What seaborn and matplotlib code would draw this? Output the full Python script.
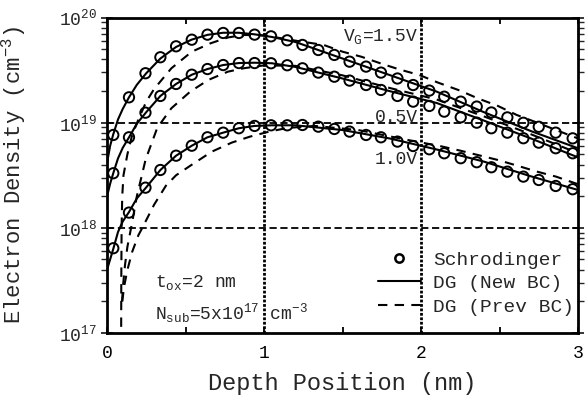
import numpy as np
import pandas as pd
import matplotlib
matplotlib.use("Agg")
import matplotlib.pyplot as plt
import seaborn as sns
from matplotlib.lines import Line2D

# ---------------- data (log10 of electron density, cm^-3) ----------------
x_sch = [0.04, 0.14, 0.245, 0.34, 0.44, 0.54, 0.64, 0.74, 0.84, 0.94, 1.045, 1.148,
         1.245, 1.346, 1.448, 1.545, 1.65, 1.745, 1.85, 1.95, 2.053, 2.148, 2.253,
         2.355, 2.448, 2.55, 2.652, 2.75, 2.858, 2.966]
sch_15 = [18.883, 19.241, 19.470, 19.622, 19.726, 19.789, 19.837, 19.853, 19.853, 19.837,
          19.821, 19.783, 19.739, 19.691, 19.644, 19.580, 19.533, 19.476, 19.42, 19.358,
          19.305, 19.247, 19.2, 19.153, 19.097, 19.05, 18.999, 18.961, 18.905, 18.851]
sch_05 = [18.519, 18.861, 19.095, 19.254, 19.368, 19.456, 19.51, 19.548, 19.567, 19.567,
          19.565, 19.546, 19.517, 19.476, 19.437, 19.4, 19.358, 19.311, 19.254, 19.2,
          19.159, 19.105, 19.051, 19.0, 18.947, 18.905, 18.852, 18.81, 18.757, 18.709]
sch_10 = [17.806, 18.145, 18.382, 18.55, 18.686, 18.781, 18.861, 18.905, 18.947, 18.969,
          18.975, 18.975, 18.978, 18.962, 18.94, 18.915, 18.883, 18.861, 18.82, 18.778,
          18.747, 18.709, 18.662, 18.624, 18.576, 18.534, 18.487, 18.455, 18.398, 18.367]

x_new = [0, 0.02, 0.04, 0.07, 0.1, 0.14, 0.19, 0.25, 0.34, 0.44, 0.54, 0.64, 0.74, 0.84,
         0.94, 1.05, 1.2, 1.5, 1.8, 2.1, 2.4, 2.7, 3.0]
new_15 = [18.614, 18.78, 18.89, 19.03, 19.13, 19.241, 19.36, 19.47, 19.61, 19.72, 19.79,
          19.835, 19.855, 19.855, 19.84, 19.815, 19.767, 19.61, 19.453, 19.295, 19.10,
          18.92, 18.757]
new_05 = [18.297, 18.42, 18.52, 18.66, 18.76, 18.86, 18.99, 19.1, 19.254, 19.368, 19.456,
          19.51, 19.548, 19.567, 19.57, 19.565, 19.53, 19.42, 19.3, 19.187, 19.02, 18.85,
          18.67]
new_10 = [17.6, 17.7, 17.8, 17.96, 18.06, 18.15, 18.28, 18.385, 18.55, 18.686, 18.781,
          18.861, 18.905, 18.947, 18.969, 18.975, 18.975, 18.93, 18.85, 18.745, 18.63,
          18.49, 18.36]

x_prev_15 = [0.09, 0.091, 0.093, 0.097, 0.105, 0.13, 0.16, 0.2, 0.25, 0.3, 0.41, 0.54,
             0.66, 0.77, 0.87, 1.0, 1.2, 1.38, 1.5, 1.62, 1.74, 1.86, 1.99, 2.11, 2.25,
             2.36, 2.49, 2.61, 2.74, 2.86, 3.0]
prev_15 = [16.9, 17.5, 18.0, 18.3, 18.5, 18.7, 18.88, 19.03, 19.2, 19.32, 19.517, 19.675,
           19.755, 19.81, 19.834, 19.83, 19.78, 19.739, 19.675, 19.627, 19.565, 19.507,
           19.453, 19.38, 19.304, 19.232, 19.159, 19.073, 19.0, 18.93, 18.85]
x_prev_05 = [0.096, 0.102, 0.115, 0.13, 0.16, 0.19, 0.246, 0.32, 0.41, 0.53, 0.645, 0.77,
             0.87, 1.0, 1.2, 1.5, 1.8, 2.1, 2.4, 2.7, 3.0]
prev_05 = [17.3, 17.45, 17.65, 17.82, 18.05, 18.3, 18.65, 18.95, 19.137, 19.295, 19.406,
           19.485, 19.517, 19.545, 19.54, 19.45, 19.33, 19.22, 19.06, 18.89, 18.71]
x_prev_10 = [0.097, 0.11, 0.13, 0.16, 0.2, 0.225, 0.3, 0.375, 0.44, 0.54, 0.667, 0.794,
             0.91, 1.03, 1.15, 1.325, 1.6, 1.9, 2.12, 2.25, 2.49, 2.62, 2.74, 2.86, 2.97,
             3.0]
prev_10 = [17.3, 17.45, 17.6, 17.77, 17.93, 18.0, 18.22, 18.4, 18.5, 18.6, 18.724,
           18.81, 18.867, 18.914, 18.95, 18.969, 18.93, 18.84, 18.778, 18.734, 18.645,
           18.588, 18.534, 18.487, 18.43, 18.415]

x_ticks = [0, 1, 2, 3]
y_tick_exp = [17, 18, 19, 20]

# ---------------- build tables ----------------
def table(xs, logs, name):
    return pd.DataFrame({"x": xs, "n": 10.0 ** np.asarray(logs), "curve": name})

df_sch = pd.concat([table(x_sch, sch_15, "1.5"), table(x_sch, sch_05, "0.5"),
                    table(x_sch, sch_10, "1.0")], ignore_index=True)
df_new = pd.concat([table(x_new, new_15, "1.5"), table(x_new, new_05, "0.5"),
                    table(x_new, new_10, "1.0")], ignore_index=True)
df_prev = pd.concat([table(x_prev_15, prev_15, "1.5"), table(x_prev_05, prev_05, "0.5"),
                     table(x_prev_10, prev_10, "1.0")], ignore_index=True)

# ---------------- style ----------------
sns.set_theme(style="white")
mono = "Liberation Mono"
plt.rcParams["font.family"] = [mono, "DejaVu Sans"]
plt.rcParams["mathtext.fontset"] = "custom"
plt.rcParams["mathtext.rm"] = mono
plt.rcParams["mathtext.it"] = mono
plt.rcParams["mathtext.bf"] = mono

fig = plt.figure(figsize=(5.86, 3.96), dpi=100)
ax = fig.add_axes([107 / 586, 1 - 333 / 396, 471 / 586, (333 - 17.5) / 396])

# reference grid lines
for e in (18, 19):
    ax.axhline(10.0 ** e, color="black", lw=1.3, ls=(0, (4, 2)), zorder=1)
for xv in (1, 2):
    ax.axvline(xv, color="black", lw=2.0, ls=(0, (1, 0.6)), zorder=1)

sns.lineplot(data=df_new, x="x", y="n", units="curve", estimator=None, sort=False,
             color="black", lw=1.5, ax=ax, zorder=3)
sns.lineplot(data=df_prev, x="x", y="n", units="curve", estimator=None, sort=False,
             color="black", lw=1.5, ls=(0, (4.5, 3.5)), ax=ax, zorder=3)
sns.scatterplot(data=df_sch, x="x", y="n", marker="o", s=55, ax=ax, zorder=4,
                legend=False)
for coll in ax.collections:
    coll.set_facecolor("none")
    coll.set_edgecolor("black")
    coll.set_linewidth(1.4)

ax.set_yscale("log")
ax.set_xlim(0, 3)
ax.set_ylim(1e17, 1e20)

ax.set_xticks(x_ticks)
ax.set_xticklabels([str(v) for v in x_ticks], fontsize=13)
ax.set_xticks([0.5, 1.5, 2.5], minor=True)
ax.set_yticks([10.0 ** e for e in y_tick_exp])
ax.set_yticklabels([r"$10^{%d}$" % e for e in y_tick_exp], fontsize=13)

ax.tick_params(axis="x", which="both", direction="in", top=True, bottom=True,
               length=4, width=1.3, pad=9, colors="black")
ax.tick_params(axis="y", which="major", direction="inout", left=True, right=True,
               length=8, width=1.3, pad=3)
ax.tick_params(axis="y", which="minor", direction="out", left=True, right=True,
               length=4, width=1.0)

for sp in ax.spines.values():
    sp.set_color("black")
    sp.set_linewidth(2.0)

ax.set_xlabel("Depth Position (nm)", fontsize=17)
ax.set_ylabel(r"Electron Density (cm$^{-3}$)", fontsize=16)
ax.xaxis.set_label_coords(0.5, -0.125)
ax.yaxis.set_label_coords(-0.168, 0.5)

# annotations
ax.text(1.98, 10 ** 19.82, r"V$_{G}$=1.5V", fontsize=13, ha="right", va="center")
ax.text(1.98, 10 ** 19.05, "0.5V", fontsize=13, ha="right", va="center")
ax.text(1.98, 10 ** 18.65, "1.0V", fontsize=13, ha="right", va="center")
ax.text(0.305, 10 ** 17.48, r"t$_{ox}$=2 nm", fontsize=13, ha="left", va="center")
ax.text(0.305, 10 ** 17.19, r"N$_{sub}$=5x10$^{17}$ cm$^{-3}$", fontsize=13,
        ha="left", va="center")

handles = [
    Line2D([], [], ls="none", marker="o", mfc="none", mec="black", mew=1.8, ms=6),
    Line2D([], [], color="black", lw=1.5),
    Line2D([], [], color="black", lw=1.5, ls=(0, (4.5, 3.5))),
]
labels = ["Schrodinger", "DG (New BC)", "DG (Prev BC)"]
fig.legend(handles, labels, loc="upper left", bbox_to_anchor=(378 / 586, 1 - 251 / 396),
           frameon=False, fontsize=14, handlelength=2.2, handletextpad=0.65,
           labelspacing=0.3, borderpad=0, borderaxespad=0)

fig.savefig("out.png", dpi=100)
